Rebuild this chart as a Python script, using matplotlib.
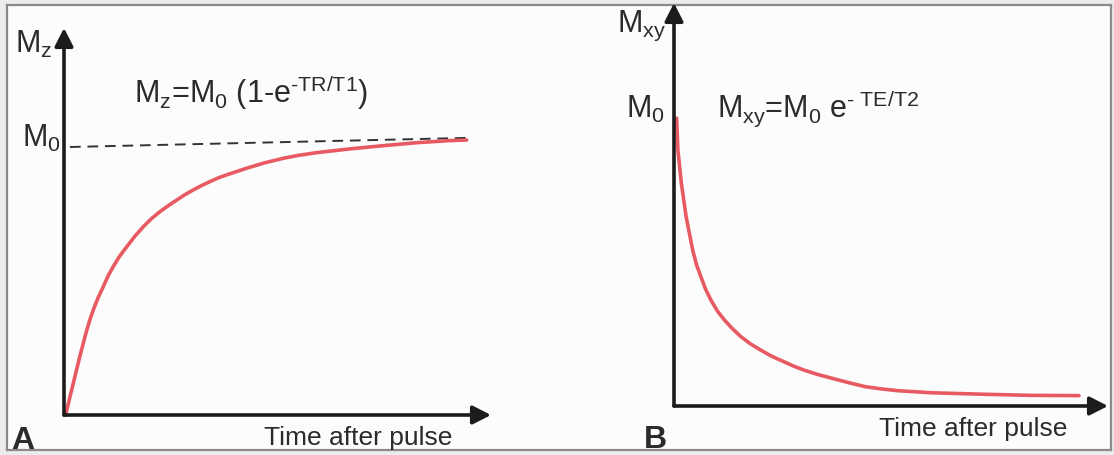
import numpy as np
import matplotlib.pyplot as plt

plt.rcParams['font.family'] = ['Liberation Sans', 'DejaVu Sans']
plt.rcParams['mathtext.fontset'] = 'custom'
plt.rcParams['mathtext.rm'] = 'Liberation Sans'
plt.rcParams['mathtext.it'] = 'Liberation Sans'

# panel A: T1 recovery (time in arbitrary units, Mz / M0)
t1_time = [0.04, 0.12, 0.22, 0.37, 0.45, 0.53, 0.61, 0.69, 0.80, 0.92, 1.03, 1.15, 1.30,
           1.47, 1.66, 1.86, 2.05, 2.25, 2.45, 2.64, 2.83, 3.03, 3.22, 3.42, 3.60, 3.81,
           4.28, 4.70, 5.14, 5.50, 5.92, 6.70, 7.48, 8.26, 9.04, 9.43]
t1_mz = [0.0, 0.055, 0.120, 0.218, 0.267, 0.315, 0.357, 0.394, 0.438, 0.479, 0.518, 0.553,
         0.592, 0.628, 0.667, 0.703, 0.733, 0.759, 0.782, 0.802, 0.822, 0.840, 0.856, 0.871,
         0.884, 0.896, 0.921, 0.941, 0.958, 0.969, 0.979, 0.993, 1.005, 1.016, 1.024, 1.026]
m0_line_t = [0.14, 9.46]
m0_line_m = [1.0, 1.034]

# panel B: T2 decay (Mxy / M0)
t2_time = [0.06, 0.09, 0.17, 0.28, 0.43, 0.52, 0.62, 0.73, 0.85, 1.00, 1.16, 1.35, 1.54,
           1.77, 2.00, 2.25, 2.53, 2.75, 2.99, 3.30, 3.65, 4.00, 4.41, 4.80, 5.17, 5.93,
           7.08, 8.22, 9.33]
t2_mxy = [1.0, 0.889, 0.773, 0.657, 0.542, 0.490, 0.449, 0.405, 0.368, 0.330, 0.299, 0.268,
          0.241, 0.215, 0.194, 0.173, 0.154, 0.139, 0.125, 0.110, 0.096, 0.082, 0.067, 0.059,
          0.053, 0.046, 0.041, 0.037, 0.036]

W, H = 1114, 455
RED = '#e85a62'
INK = '#1c1c1c'
TXT = '#2b2b2b'

fig = plt.figure(figsize=(W / 100, H / 100), dpi=100)
fig.patch.set_facecolor('#ececec')


def box(x0, y0, x1, y1):
    # pixel box (left, top, right, bottom) -> figure fractions
    return [x0 / W, 1 - y1 / H, (x1 - x0) / W, (y1 - y0) / H]


def ftext(x, y, s, **kw):
    fig.text(x / W, 1 - y / H, s, color=TXT, va='baseline', **kw)


# scanned page frame
frame = fig.add_axes(box(7, 5, 1111, 450))
frame.set_xticks([])
frame.set_yticks([])
frame.set_facecolor('#fcfcfc')
for sp in frame.spines.values():
    sp.set_color('#8a8a8a')
    sp.set_linewidth(1.6)


def draw_axes(ax, xmax, ymax):
    ax.set_xlim(0, xmax)
    ax.set_ylim(0, ymax)
    ax.set_axis_off()
    style = '-|>,head_length=0.55,head_width=0.28'
    for tip in [(xmax, 0), (0, ymax)]:
        ax.annotate('', xy=tip, xytext=(0, 0), annotation_clip=False,
                    arrowprops=dict(arrowstyle=style, lw=2.6, color=INK,
                                    mutation_scale=20, shrinkA=0, shrinkB=0))


curve_kw = dict(color=RED, lw=2.6, solid_capstyle='round', solid_joinstyle='round',
                clip_on=False)

# panel A
axA = fig.add_axes(box(64, 28, 491, 415))
axA.patch.set_alpha(0)
draw_axes(axA, 10, 1.444)
axA.plot(m0_line_t, m0_line_m, color='#333333', lw=1.4, ls=(0, (5.5, 3.5)), clip_on=False)
axA.plot(t1_time, t1_mz, **curve_kw)

ftext(15, 53, r'M$_\mathregular{z}$', fontsize=22)
ftext(134, 103, r'M$_\mathregular{z}$=M$_\mathregular{0}$ (1-e$^\mathregular{\text{-TR/T1}}$)',
      fontsize=22)
ftext(61, 147, r'M$_\mathregular{0}$', fontsize=22, ha='right')
ftext(11, 449, 'A', fontsize=23, fontweight='bold')
ftext(358, 445, 'Time after pulse', fontsize=19, ha='center')

# panel B
axB = fig.add_axes(box(674, 3, 1108, 406))
axB.patch.set_alpha(0)
draw_axes(axB, 10, 1.40)
axB.plot(t2_time, t2_mxy, **curve_kw)

ftext(617, 32, r'M$_\mathregular{xy}$', fontsize=22)
ftext(626, 118, r'M$_\mathregular{0}$', fontsize=22)
ftext(717, 118, r'M$_\mathregular{xy}$=M$_\mathregular{0}$ e$^\mathregular{\text{- TE/T2}}$',
      fontsize=22)
ftext(644, 448, 'B', fontsize=23, fontweight='bold')
ftext(973, 436, 'Time after pulse', fontsize=19, ha='center')

fig.savefig('out.png', dpi=100, facecolor=fig.get_facecolor())
